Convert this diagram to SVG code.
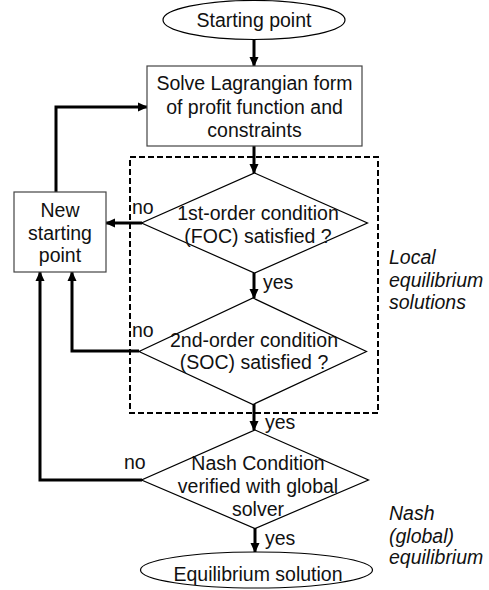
<svg xmlns="http://www.w3.org/2000/svg" width="489" height="590" viewBox="0 0 489 590">
<style>
text{font-family:"Liberation Sans",Arial,sans-serif;font-size:19.5px;fill:#111}
.c{text-anchor:middle}
.i{font-style:italic}
.shape{fill:#fff;stroke:#000;stroke-width:1.2}
.box{fill:#fff;stroke:#444;stroke-width:1.2}
.conn path{fill:none;stroke:#000;stroke-width:3;marker-end:url(#ah)}
</style>
<defs>
<marker id="ah" markerUnits="userSpaceOnUse" markerWidth="10" markerHeight="10" viewBox="0 0 10 10" refX="9" refY="5" orient="auto">
<path d="M0,0.5 L10,5 L0,9.5 z" fill="#000"/>
</marker>
</defs>
<rect id="local-region" x="130" y="157" width="248" height="256" fill="none" stroke="#000" stroke-width="2" stroke-dasharray="6,3"/>
<g class="conn" id="connectors">
<path d="M254,40 V66"/>
<path d="M254,146 V173"/>
<path d="M142,223 H106"/>
<path d="M254,273 V298"/>
<path d="M139,351 H72 V272"/>
<path d="M254,404 V430"/>
<path d="M142,480 H40 V272"/>
<path d="M255,528 V552"/>
<path d="M56,192 V107 H147"/>
</g>
<g id="start">
<ellipse class="shape" cx="254" cy="20" rx="91" ry="19.5"/>
<text class="c" x="254" y="27">Starting point</text>
</g>
<g id="solve">
<rect class="box" x="147" y="66" width="215" height="80"/>
<text class="c" x="254.5" y="90">Solve Lagrangian form</text>
<text class="c" x="254.5" y="114">of profit function and</text>
<text class="c" x="254.5" y="137">constraints</text>
</g>
<g id="newstart">
<rect class="box" x="14" y="192" width="92" height="80"/>
<text class="c" x="60" y="217">New</text>
<text class="c" x="60" y="240">starting</text>
<text class="c" x="60" y="262">point</text>
</g>
<g id="foc">
<polygon class="shape" points="254.5,173 367.5,223 254.5,273 141.5,223"/>
<text class="c" x="258" y="220">1st-order condition</text>
<text class="c" x="258" y="243">(FOC) satisfied ?</text>
</g>
<g id="soc">
<polygon class="shape" points="253,298 366.5,351.5 253,404.5 139,351.5"/>
<text class="c" x="254" y="347">2nd-order condition</text>
<text class="c" x="254" y="369">(SOC) satisfied ?</text>
</g>
<g id="nash">
<polygon class="shape" points="255,430 368.5,480 255,528.5 141.5,480"/>
<text class="c" x="258" y="470">Nash Condition</text>
<text class="c" x="258" y="493">verified with global</text>
<text class="c" x="258" y="516">solver</text>
</g>
<g id="end">
<ellipse class="shape" cx="256.5" cy="570" rx="116" ry="18"/>
<text class="c" x="258" y="581">Equilibrium solution</text>
</g>
<g id="labels">
<text x="132" y="214">no</text>
<text x="263" y="289">yes</text>
<text x="132" y="337">no</text>
<text x="265" y="429">yes</text>
<text x="124" y="469">no</text>
<text x="265" y="545">yes</text>
<text class="i" x="389" y="264">Local</text>
<text class="i" x="389" y="287">equilibrium</text>
<text class="i" x="389" y="309">solutions</text>
<text class="i" x="389" y="520">Nash</text>
<text class="i" x="389" y="543">(global)</text>
<text class="i" x="389" y="564">equilibrium</text>
</g>
</svg>
